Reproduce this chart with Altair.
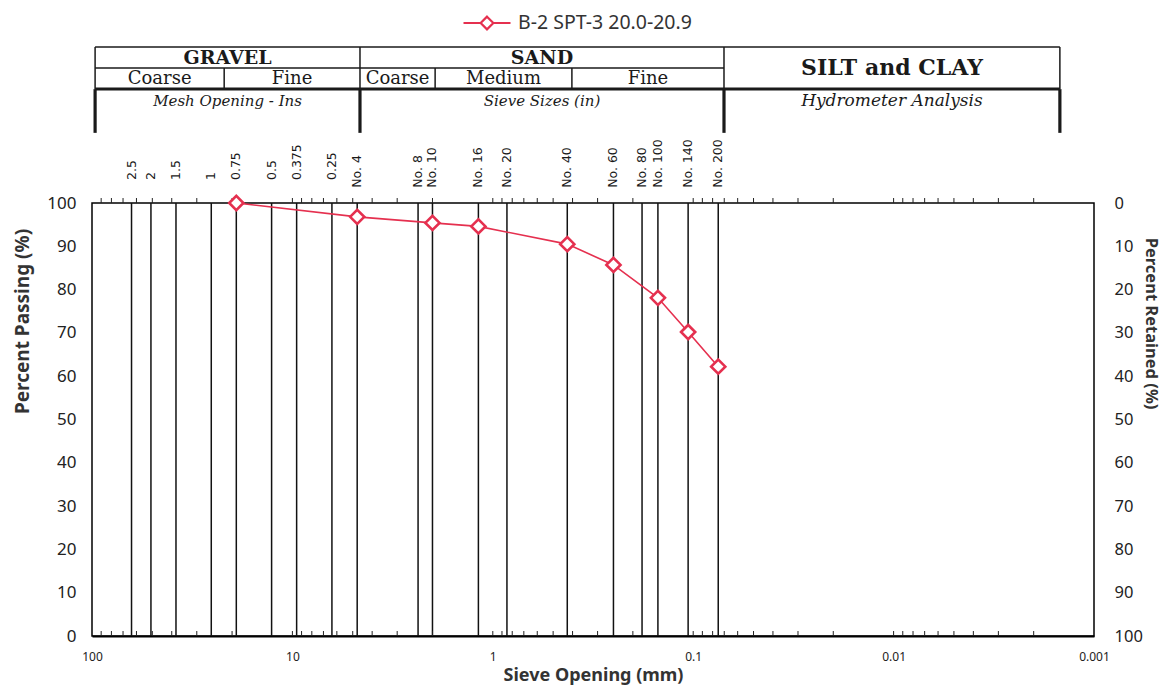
import math
import altair as alt
import pandas as pd

# ---------------- data ----------------
inch_labels = ["2.5", "2", "1.5", "1", "0.75", "0.5", "0.375", "0.25"]
inch_sizes_mm = [63.5, 50.8, 38.1, 25.4, 19.05, 12.7, 9.525, 6.35]
no_labels = ["No. 4", "No. 8", "No. 10", "No. 16", "No. 20", "No. 40",
             "No. 60", "No. 80", "No. 100", "No. 140", "No. 200"]
no_sizes_mm = [4.75, 2.36, 2.0, 1.18, 0.85, 0.425, 0.25, 0.18, 0.15, 0.106, 0.075]

sample = "B-2 SPT-3 20.0-20.9"
test_sizes_mm = [19.05, 4.75, 2.0, 1.18, 0.425, 0.25, 0.15, 0.106, 0.075]
percent_passing = [100, 96.8, 95.4, 94.6, 90.5, 85.7, 78.1, 70.2, 62.2]

decade_values = [100, 10, 1, 0.1, 0.01, 0.001]
percent_values = [0, 10, 20, 30, 40, 50, 60, 70, 80, 90, 100]

zone_names = ["GRAVEL", "SAND", "SILT and CLAY"]
zone_edges_mm = [96.5, 4.6, 0.0702, 0.00148]
sub_names = ["Coarse", "Fine", "Coarse", "Medium", "Fine"]
sub_edges_mm = [96.5, 21.9, 4.6, 1.94, 0.403, 0.0702]
method_names = ["Mesh Opening - Ins", "Sieve Sizes (in)", "Hydrometer Analysis"]

# ---------------- layout constants (in % units, extrapolated above plot) ----
ROW_TOP, ROW_MID, ROW_BOT, ROW_END = 136.0, 131.2, 126.3, 116.2
Y_ZONE, Y_SILT, Y_SUB, Y_METHOD = 133.6, 131.1, 128.7, 123.5
Y_INCH_LAB, Y_NO_LAB = 105.3, 103.5
TICK_LEN = 1.15

RED = "#e5304f"
INK = "#1a1a1a"

xscale = alt.Scale(type="log", domain=[0.001, 100], reverse=True, nice=False)
yscale = alt.Scale(domain=[0, 100], nice=False)


def gm(a, b):
    return math.sqrt(a * b)


# ---------------- tables ----------------
sieve_df = pd.DataFrame({"mm": inch_sizes_mm + no_sizes_mm, "lo": 0, "hi": 100})
curve_df = pd.DataFrame({"mm": test_sizes_mm, "passing": percent_passing, "sample": sample})
inch_df = pd.DataFrame({"mm": inch_sizes_mm, "label": inch_labels, "y": Y_INCH_LAB})
no_df = pd.DataFrame({"mm": no_sizes_mm, "label": no_labels, "y": Y_NO_LAB})

minor = [m * 10.0 ** e for e in range(-3, 2) for m in range(1, 10)]
minor = [v for v in minor if 0.001 < v < 100]
tick_df = pd.DataFrame({
    "mm": minor + minor,
    "a": [0] * len(minor) + [100] * len(minor),
    "b": [TICK_LEN] * len(minor) + [100 + TICK_LEN] * len(minor),
})

hthin_df = pd.DataFrame({
    "x0": [zone_edges_mm[0], zone_edges_mm[0]],
    "x1": [zone_edges_mm[-1], zone_edges_mm[2]],
    "y": [ROW_TOP, ROW_MID],
})
hthick_df = pd.DataFrame({"x0": [zone_edges_mm[0]], "x1": [zone_edges_mm[-1]], "y": [ROW_BOT]})
vthin_df = pd.DataFrame({
    "x": zone_edges_mm + [sub_edges_mm[1], sub_edges_mm[3], sub_edges_mm[4]],
    "y0": [ROW_BOT] * 4 + [ROW_BOT] * 3,
    "y1": [ROW_TOP] * 4 + [ROW_MID] * 3,
})
vthick_df = pd.DataFrame({"x": zone_edges_mm, "y0": ROW_END, "y1": ROW_BOT})

zone_txt = pd.DataFrame({
    "x": [gm(zone_edges_mm[i], zone_edges_mm[i + 1]) for i in range(2)],
    "y": Y_ZONE, "t": zone_names[:2]})
silt_txt = pd.DataFrame({"x": [gm(zone_edges_mm[2], zone_edges_mm[3])], "y": Y_SILT, "t": [zone_names[2]]})
sub_txt = pd.DataFrame({
    "x": [gm(sub_edges_mm[i], sub_edges_mm[i + 1]) for i in range(5)],
    "y": Y_SUB, "t": sub_names})
meth_txt = pd.DataFrame({
    "x": [gm(zone_edges_mm[i], zone_edges_mm[i + 1]) for i in range(2)],
    "y": Y_METHOD, "t": method_names[:2]})
hydro_txt = pd.DataFrame({"x": [gm(zone_edges_mm[2], zone_edges_mm[3])], "y": Y_METHOD, "t": [method_names[2]]})

# ---------------- layers ----------------
X = lambda f: alt.X(f, type="quantitative", scale=xscale, axis=None)
Y = lambda f: alt.Y(f, type="quantitative", scale=yscale, axis=None)

sieve_lines = alt.Chart(sieve_df).mark_rule(color="#111111", strokeWidth=1.5).encode(
    x=X("mm"),
    y=alt.Y("lo:Q", scale=yscale, axis=alt.Axis(
        orient="right", values=percent_values, labelExpr="100 - datum.value",
        title="Percent Retained (%)", titleAngle=90, titleFontSize=16.5,
        titleFontWeight="bold", titleFont="Noto Sans", titleColor="#333",
        titlePadding=0, titleY=120, labelAlign="left", labelPadding=20,
        labelFontSize=16.5, labelFont="Noto Sans", labelColor="#222",
        ticks=False, domain=False, grid=False)),
    y2="hi:Q",
)

ticks = alt.Chart(tick_df).mark_rule(color="#222", strokeWidth=1).encode(
    x=X("mm"), y=Y("a"), y2="b:Q")

line = alt.Chart(curve_df).mark_line(strokeWidth=1.6).encode(
    x=alt.X("mm:Q", scale=xscale, axis=alt.Axis(
        orient="bottom", values=decade_values, labelExpr="format(datum.value, '~g')",
        title="Sieve Opening (mm)", titleFontSize=18, titleFontWeight="bold",
        titleFont="Noto Sans", titleColor="#333", titlePadding=4,
        labelFontSize=12, labelFont="Noto Sans", labelColor="#222",
        labelPadding=15, ticks=False, tickSize=0, domain=True,
        domainColor="black", domainWidth=2, grid=False, labelFlush=False)),
    y=alt.Y("passing:Q", scale=yscale, axis=alt.Axis(
        orient="left", values=percent_values, title="Percent Passing (%)",
        titleAngle=270, titleFontSize=19, titleFontWeight="bold",
        titleFont="Noto Sans", titleColor="#333", titlePadding=14, titleY=118,
        labelFontSize=17, labelFont="Noto Sans", labelColor="#222",
        labelPadding=16, ticks=False, domain=False, grid=False)),
    color=alt.Color("sample:N", scale=alt.Scale(domain=[sample], range=[RED]),
                    legend=alt.Legend(
                        title=None, orient="none", legendX=370, legendY=-205,
                        symbolType="M-1,0L-0.27,0M0.27,0L1,0M0,-0.27L0.27,0L0,0.27L-0.27,0Z",
                        symbolSize=2209, symbolStrokeWidth=2.2, symbolStrokeColor=RED,
                        labelFontSize=19.5, labelFont="Noto Sans", labelColor="#333",
                        labelOffset=6, labelLimit=500, padding=0)),
)

points = alt.Chart(curve_df).mark_point(
    shape="diamond", size=200, filled=True, fill="white", stroke=RED,
    strokeWidth=2.6, opacity=1).encode(x=X("mm"), y=Y("passing"))

inch_text = alt.Chart(inch_df).mark_text(
    angle=270, align="left", baseline="middle", font="DejaVu Sans",
    fontSize=12.5, color=INK).encode(x=X("mm"), y=Y("y"), text="label:N")
no_text = alt.Chart(no_df).mark_text(
    angle=270, align="left", baseline="middle", font="DejaVu Sans",
    fontSize=12.5, color=INK).encode(x=X("mm"), y=Y("y"), text="label:N")

h_thin = alt.Chart(hthin_df).mark_rule(color=INK, strokeWidth=1.5).encode(
    x=X("x0"), x2="x1:Q", y=Y("y"))
h_thick = alt.Chart(hthick_df).mark_rule(color=INK, strokeWidth=3).encode(
    x=X("x0"), x2="x1:Q", y=Y("y"))
v_thin = alt.Chart(vthin_df).mark_rule(color=INK, strokeWidth=1.5).encode(
    x=X("x"), y=Y("y0"), y2="y1:Q")
v_thick = alt.Chart(vthick_df).mark_rule(color=INK, strokeWidth=3.2).encode(
    x=X("x"), y=Y("y0"), y2="y1:Q")

zone_t = alt.Chart(zone_txt).mark_text(
    font="DejaVu Serif", fontWeight="bold", fontSize=19, color=INK,
    baseline="middle").encode(x=X("x"), y=Y("y"), text="t:N")
silt_t = alt.Chart(silt_txt).mark_text(
    font="DejaVu Serif", fontWeight="bold", fontSize=22, color=INK,
    baseline="middle").encode(x=X("x"), y=Y("y"), text="t:N")
sub_t = alt.Chart(sub_txt).mark_text(
    font="DejaVu Serif", fontSize=18, color=INK,
    baseline="middle").encode(x=X("x"), y=Y("y"), text="t:N")
meth_t = alt.Chart(meth_txt).mark_text(
    font="DejaVu Serif", fontStyle="italic", fontSize=15, color=INK,
    baseline="middle").encode(x=X("x"), y=Y("y"), text="t:N")
hydro_t = alt.Chart(hydro_txt).mark_text(
    font="DejaVu Serif", fontStyle="italic", fontSize=17, color=INK,
    baseline="middle").encode(x=X("x"), y=Y("y"), text="t:N")

chart = alt.layer(
    sieve_lines, ticks, line, points, inch_text, no_text,
    h_thin, h_thick, v_thin, v_thick, zone_t, silt_t, sub_t, meth_t, hydro_t,
).resolve_axis(x="independent", y="independent").properties(
    width=1002, height=433,
    autosize=alt.AutoSizeParams(type="none"),
    padding={"left": 84, "top": 195, "right": 72, "bottom": 52},
    background="white",
).configure_view(stroke="black", strokeWidth=1.5)

chart.save("out.html", embed_options={"renderer": "svg", "actions": False})
